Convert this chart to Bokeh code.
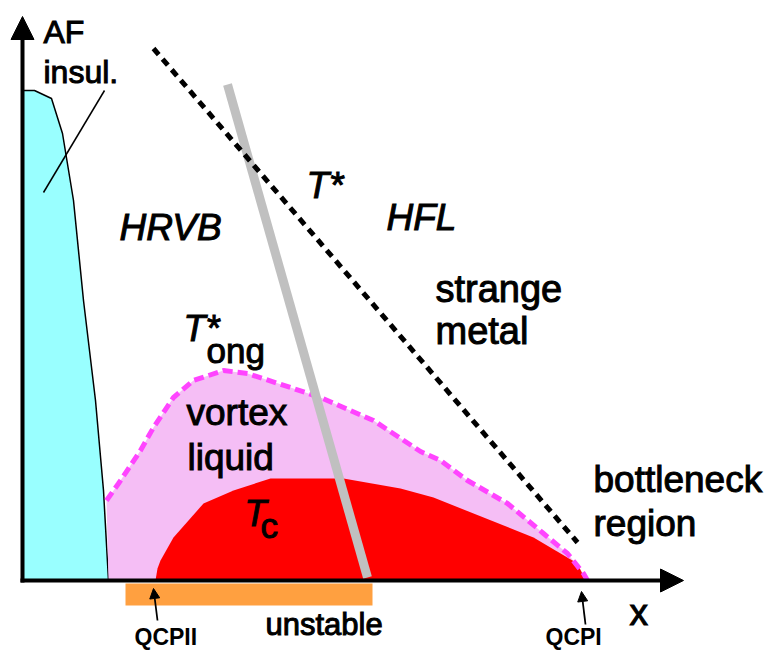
from bokeh.plotting import figure
from bokeh.models import Range1d, Arrow, NormalHead
from bokeh.core.properties import value
from bokeh.embed import file_html
from bokeh.resources import INLINE

# ---- schematic data (image-pixel coordinate system, y downward) ----
af_x = [22, 22, 34, 51, 62, 73, 83, 95, 103, 108]
af_y = [580, 90, 90, 98, 133, 200, 300, 400, 490, 580]

ong_x = [106, 118, 140, 153, 173, 193, 223, 247, 290, 320, 373, 420, 440, 467, 507, 543, 567, 583, 587]
ong_y = [500, 483, 450, 427, 397, 380, 370, 373, 387, 397, 420, 451, 460, 480, 503, 533, 553, 573, 580]
pink_edge_x = [108, 106]
pink_edge_y = [580, 500]

tc_x = [155, 157, 160, 173, 203, 233, 270, 343, 400, 433, 533, 577, 585]
tc_y = [580, 568, 560, 537, 503, 490, 478, 478, 488, 497, 537, 563, 580]

tstar_x = [153, 577]
tstar_y = [48, 542]

gray_x = [227, 367]
gray_y = [84, 577]

unstable_left, unstable_right = 125, 372
unstable_top, unstable_bottom = 583, 605

yaxis = dict(x0=22, y0=582, x1=22, y1=16)
xaxis = dict(x0=20, y0=580, x1=683, y1=580)
qcp2 = dict(x0=157, y0=620, x1=153, y1=588)
qcp1 = dict(x0=585, y0=624, x1=581, y1=591)
af_pointer_x = [104, 43]
af_pointer_y = [90, 192]

labels_upright = ["AF", "insul.", "strange", "metal", "vortex", "liquid", "bottleneck", "region", "unstable", "x"]
labels_upright_x = [43, 43, 435, 435, 186, 187, 593, 593, 265, 629]
labels_upright_y = [31, 71, 288, 330, 412, 457, 479, 523, 624, 612]
labels_upright_size = ["32px", "32px", "38px", "38px", "37px", "37px", "37px", "37px", "31px", "37px"]

labels_italic = ["HRVB", "T*", "HFL", "T*", "T"]
labels_italic_x = [119, 306, 386, 183, 244]
labels_italic_y = [227, 185, 217, 328, 513]
labels_italic_size = ["37px", "37px", "37px", "36px", "36px"]

subs = ["ong", "c"]
subs_x = [206, 260]
subs_y = [350, 525]

small_labels = ["QCPII", "QCPI"]
small_x = [134, 545]
small_y = [636, 636]

FONT = value("Liberation Sans")

p = figure(width=769, height=652, x_range=Range1d(0, 769), y_range=Range1d(652, 0),
           output_backend="svg", toolbar_location=None, x_axis_type=None, y_axis_type=None,
           min_border=0, outline_line_color=None)
p.grid.visible = False
p.background_fill_color = "white"

# regions
p.patch(af_x, af_y, fill_color="#99ffff", line_color=None)
p.line(af_x[1:], af_y[1:], line_color="black", line_width=1.5)

pink_x = ong_x + tc_x[::-1][:1] + pink_edge_x
pink_y = ong_y + [580] + pink_edge_y
p.patch(pink_x, pink_y, fill_color="#f5bef5", line_color=None)
p.patch(tc_x, tc_y, fill_color="#ff0000", line_color=None)
p.line(ong_x, ong_y, line_color="#ff44ff", line_width=5, line_dash="10 5")

p.quad(left=[unstable_left], right=[unstable_right], top=[unstable_top], bottom=[unstable_bottom],
       fill_color="#ffa040", line_color=None)

p.line(gray_x, gray_y, line_color="#c0c0c0", line_width=9)
p.line(tstar_x, tstar_y, line_color="black", line_width=5, line_dash="8 6")
p.line(af_pointer_x, af_pointer_y, line_color="black", line_width=1.5)

# axes arrows
for a, sz, lw in [(yaxis, 23, 4), (xaxis, 23, 4), (qcp2, 10, 1.8), (qcp1, 10, 1.8)]:
    p.add_layout(Arrow(end=NormalHead(size=sz, fill_color="black", line_color="black"),
                       x_start=a["x0"], y_start=a["y0"], x_end=a["x1"], y_end=a["y1"],
                       line_width=lw, line_color="black"))

# texts
p.text(labels_upright_x, labels_upright_y, text=labels_upright, text_font=FONT,
       text_font_size=labels_upright_size, text_baseline="alphabetic", text_color="black",
       text_outline_color="black")
p.text(labels_italic_x, labels_italic_y, text=labels_italic, text_font=FONT,
       text_font_size=labels_italic_size, text_font_style="italic", text_baseline="alphabetic",
       text_color="black", text_outline_color="black")
p.text(subs_x, subs_y, text=subs, text_font=FONT, text_font_size="35px",
       text_baseline="alphabetic", text_color="black", text_outline_color="black")
p.text(small_x, small_y, text=small_labels, text_font=FONT, text_font_size="23px",
       text_font_style="bold", text_baseline="alphabetic", text_color="black")

open("out.html", "w").write(file_html(p, INLINE))
